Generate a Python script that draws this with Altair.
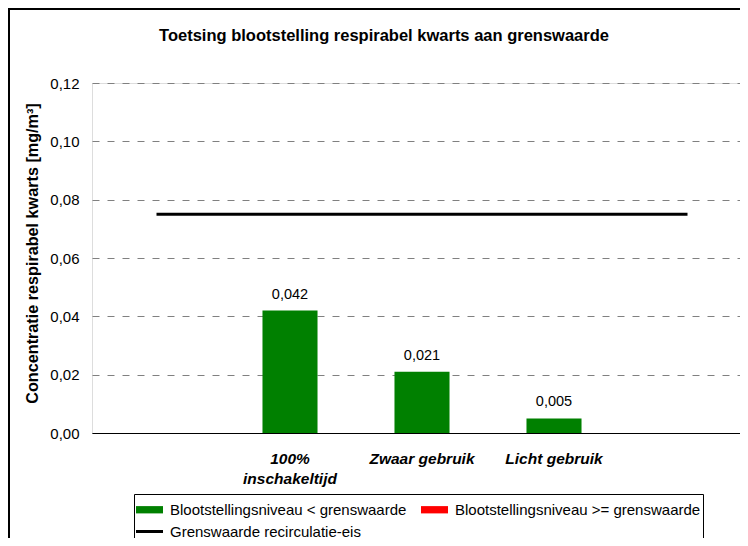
import altair as alt
import pandas as pd

# ---- data ----
categories = ["(leeg 1)", "100%\ninschakeltijd", "Zwaar gebruik", "Licht gebruik", "(leeg 2)"]
bar_categories = ["100%\ninschakeltijd", "Zwaar gebruik", "Licht gebruik"]
bar_values = [0.042, 0.021, 0.005]
limit_values = [0.075, 0.075, 0.075, 0.075, 0.075]
legend_items = [
    "Blootstellingsniveau < grenswaarde",
    "Blootstellingsniveau >= grenswaarde",
    "Grenswaarde recirculatie-eis",
]
legend_colors = ["#008000", "#ff0000", "#000000"]
y_ticks = [0, 0.02, 0.04, 0.06, 0.08, 0.10, 0.12]

FONT = "Liberation Sans"
W, H = 648, 350          # visible plot area (page is 748 px wide)
X_SPAN = 660             # the category axis runs on past the right edge
PAD_L, PAD_T = 84, 75
TOTAL_H = 530

bars_df = pd.DataFrame({"cat": bar_categories, "value": bar_values})
limit_df = pd.DataFrame({"cat": categories, "limit": limit_values})
legend_df = pd.DataFrame({"item": legend_items})
frame_df = pd.DataFrame({"a": [0]})

x_scale = alt.Scale(domain=categories, range=[0, X_SPAN],
                    paddingInner=0.583, paddingOuter=0.2915)
y_scale = alt.Scale(domain=[0, 0.12], nice=False)

x_axis = alt.Axis(
    title=None, ticks=False, grid=False, domain=True, domainColor="black",
    domainWidth=1, labelAngle=0, labelFont=FONT, labelFontSize=15.5,
    labelFontWeight="bold", labelFontStyle="italic", labelColor="black",
    labelPadding=18, labelLineHeight=20,
    labelExpr="indexof(datum.value, '(leeg') == 0 ? '' : split(datum.value, '\\n')",
)
y_axis = alt.Axis(
    title="Concentratie respirabel kwarts [mg/m³]", values=y_ticks,
    ticks=False, domain=False, grid=True, gridColor="#808080",
    gridDash=[7, 8], gridWidth=1, labelFont=FONT, labelFontSize=15,
    labelColor="black", labelPadding=13,
    labelExpr="replace(format(datum.value, '.2f'), '.', ',')",
    titleFont=FONT, titleFontSize=16.2, titleFontWeight="bold",
    titleColor="black", titlePadding=9, titleY=170,
)

frame_left = alt.Chart(frame_df).mark_rule(color="black", strokeWidth=2).encode(
    x=alt.value(-83), y=alt.value(-75), y2=alt.value(H + 200),
)
frame_top = alt.Chart(frame_df).mark_rule(color="black", strokeWidth=2).encode(
    x=alt.value(-84), x2=alt.value(W + 20), y=alt.value(-74),
)

bars = alt.Chart(bars_df).mark_bar(color=legend_colors[0]).encode(
    x=alt.X("cat:N", scale=x_scale, axis=x_axis, sort=categories),
    y=alt.Y("value:Q", scale=y_scale, axis=y_axis),
)

labels = alt.Chart(bars_df).transform_calculate(
    lbl="replace(format(datum.value, '.3f'), '.', ',')"
).mark_text(baseline="bottom", dy=-9, font=FONT, fontSize=14.5, color="black").encode(
    x=alt.X("cat:N", scale=x_scale, sort=categories),
    y=alt.Y("value:Q", scale=y_scale),
    text="lbl:N",
)

line = alt.Chart(limit_df).mark_line(
    color="black", strokeWidth=3, strokeCap="square"
).encode(
    x=alt.X("cat:N", scale=x_scale, sort=categories),
    y=alt.Y("limit:Q", scale=y_scale),
)

rect_path = "M-1,-0.27H1V0.27H-1Z"
line_path = "M-1,-0.11H1V0.11H-1Z"
leg = alt.Legend(
    title=None, orient="none", legendX=42, legendY=411, columns=2,
    direction="horizontal",
    labelFont=FONT, labelFontSize=15, labelColor="black",
    symbolSize=729, symbolStrokeWidth=0, labelOffset=7,
    columnPadding=14, rowPadding=0, padding=2,
    strokeColor="black", fillColor="white", labelLimit=400,
)
legend_layer = alt.Chart(legend_df).transform_filter("false").mark_point(
    filled=True, size=729, opacity=1
).encode(
    color=alt.Color("item:N", scale=alt.Scale(domain=legend_items, range=legend_colors), legend=leg),
    shape=alt.Shape("item:N", scale=alt.Scale(domain=legend_items, range=[rect_path, rect_path, line_path]), legend=leg),
)

chart = alt.layer(frame_left, frame_top, bars, labels, line, legend_layer).properties(
    width=W, height=H,
    autosize=alt.AutoSizeParams(type="none"),
    padding={"left": PAD_L, "top": PAD_T, "right": 0, "bottom": TOTAL_H - PAD_T - H},
    title=alt.Title(
        "Toetsing blootstelling respirabel kwarts aan grenswaarde",
        font=FONT, fontSize=16.5, fontWeight="bold", color="black",
        anchor="middle", frame="group", dx=-32, offset=-50, baseline="alphabetic",
    ),
).configure_view(stroke=None).configure(background="white")

chart.save("out.html", embed_options={"renderer": "svg", "actions": False})
